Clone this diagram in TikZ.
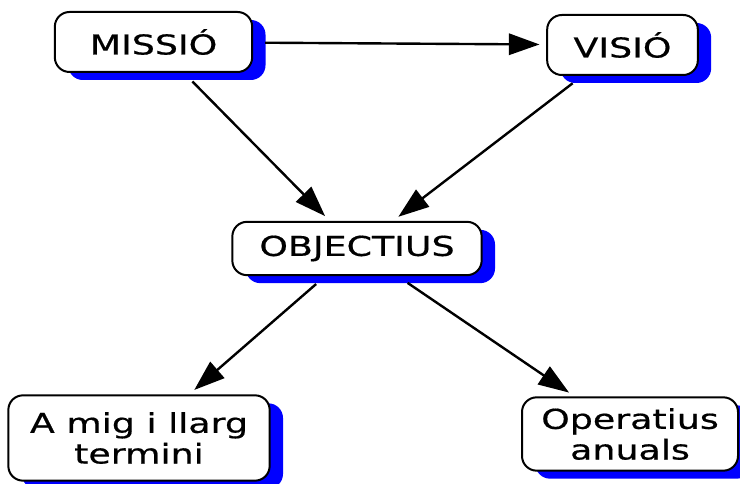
\documentclass[tikz,border=0pt]{standalone}
\usepackage{fontspec}
\usepackage{tikz}
\usetikzlibrary{arrows.meta}
\usetikzlibrary{shadows}
\newfontfamily\boxfont[FakeStretch=1.33,FakeBold=0.6]{DejaVu Sans}
\tikzstyle{box}=[draw=black,fill=white,line width=1.5pt,rounded corners=11pt,inner sep=0pt,align=center,font=\boxfont\fontsize{20.5}{23}\selectfont,drop shadow={shadow xshift=10pt,shadow yshift=-6pt,fill=blue,opacity=1}]
\tikzstyle{arr}=[-{Triangle[length=23pt,width=16pt]},draw=black,line width=1.8pt,shorten <=9pt,shorten >=5pt]

\begin{document}
\begin{tikzpicture}[x=0.75pt,y=-0.75pt]
  \useasboundingbox (0,0) rectangle (740,484);
  % top row
  \node[box,minimum width=148pt,minimum height=45pt] (MISSIO) at (153.5,42) {MISSIÓ};
  \node[box,minimum width=113pt,minimum height=45pt] (VISIO) at (622.5,45) {VISIÓ};
  % middle
  \node[box,minimum width=187pt,minimum height=40pt] (OBJ) at (357,248.5) {OBJECTIUS};
  % bottom row
  \node[box,minimum width=196pt,minimum height=64pt] (LLARG) at (139,438) {A mig i llarg\\termini};
  \node[box,minimum width=162pt,minimum height=55pt] (ANUAL) at (630,434) {Operatius\\anuals};
  \draw[arr] (MISSIO) edge (VISIO);
  \draw[arr] (MISSIO) edge (OBJ);
  \draw[arr] (VISIO) edge (OBJ);
  \draw[arr] (OBJ) edge (LLARG);
  \draw[arr] (OBJ) edge (ANUAL);
\end{tikzpicture}
\end{document}
